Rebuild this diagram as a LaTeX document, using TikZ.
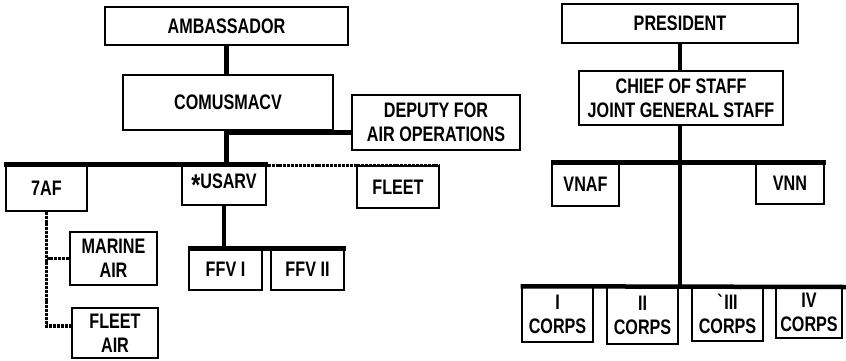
\documentclass[tikz,border=0pt]{standalone}
\usepackage{fontspec}
\setmainfont{Liberation Sans}[FakeStretch=0.77]
\begin{document}
\begin{tikzpicture}[x=1pt,y=-1pt,
  box/.style={draw=black, line width=1.5pt, inner sep=0pt, align=center,
    font=\fontsize{21}{24}\selectfont\bfseries},
  bar/.style={line width=4.5pt},
  dotline/.style={line width=3.5pt, dash pattern=on 3pt off 0.9pt},
]
\useasboundingbox[fill=white] (0,0) rectangle (846,360);
% left chart
\node[box, minimum width=243, minimum height=38] (amb) at (226.5,26) {AMBASSADOR};
\node[box, minimum width=210, minimum height=55] (com) at (228,102.5) {COMUSMACV};
\node[box, minimum width=168, minimum height=55] (dep) at (436,122.5) {DEPUTY FOR\\AIR OPERATIONS};
\node[box, minimum width=81, minimum height=46] (af) at (46.5,188) {7AF};
\node[box, minimum width=84, minimum height=40] (usarv) at (224,185) {{\fontsize{30}{30}\selectfont\raisebox{-7pt}{*}}USARV};
\node[box, minimum width=82, minimum height=42] (fleet) at (398,187) {FLEET};
\node[box, minimum width=87, minimum height=53] (marine) at (113.5,258.5) {MARINE\\AIR};
\node[box, minimum width=86, minimum height=50] (fleetair) at (115,333) {FLEET\\AIR};
\node[box, minimum width=73, minimum height=41] (ffv1) at (225.5,269.5) {FFV I};
\node[box, minimum width=73, minimum height=41] (ffv2) at (307.5,269.5) {FFV II};
% right chart
\node[box, minimum width=236, minimum height=39] (pres) at (680,23.5) {PRESIDENT};
\node[box, minimum width=204, minimum height=54] (chief) at (681,98) {CHIEF OF STAFF\\JOINT GENERAL STAFF};
\node[box, minimum width=67, minimum height=43] (vnaf) at (585.5,184.5) {VNAF};
\node[box, minimum width=68, minimum height=41] (vnn) at (790,183.5) {VNN};
\node[box, minimum width=71, minimum height=55] (c1) at (557.5,314.5) {I\\CORPS};
\node[box, minimum width=71, minimum height=57] (c2) at (642.5,315.5) {II\\CORPS};
\node[box, minimum width=71, minimum height=54] (c3) at (727.5,314) {\textasciigrave III\\CORPS};
\node[box, minimum width=66, minimum height=51] (c4) at (809,312.5) {IV\\CORPS};
% coordinates
\coordinate (depjoin) at ([yshift=-10pt]dep.west);
\coordinate (fajoin) at ([yshift=7pt]fleetair.west);
\coordinate (rend) at (846,287);
% left connectors
\draw[bar] (amb.south) -- (amb.south |- com.north);
\draw[bar] (com.south -| amb.south) -- (amb.south |- af.north);
\draw[bar] (amb.south |- depjoin) -- (depjoin);
\draw[bar] ([xshift=-1.5pt]af.north west) -- ([xshift=0.75pt]usarv.north east);
\draw[dotline] ([xshift=1pt]usarv.north east |- fleet.north) -- (fleet.north east);
\draw[dotline] (af.south) -- (af.south |- fajoin) -- (fajoin);
\draw[dotline] (af.south |- marine.west) -- (marine.west);
\draw[bar] (usarv.south) -- (usarv.south |- ffv1.north);
\draw[bar] ([xshift=-0.75pt]ffv1.north west) -- ([xshift=0.75pt]ffv2.north east);
% right connectors
\draw[bar] (pres.south) -- (pres.south |- chief.north);
\draw[bar] (chief.south -| pres.south) -- (pres.south |- c1.north);
\draw[bar] ([xshift=-0.75pt]vnaf.north west) -- ([xshift=0.75pt]vnn.north east);
\draw[bar] ([xshift=-0.75pt]c1.north west) -- (rend);
\end{tikzpicture}
\end{document}
